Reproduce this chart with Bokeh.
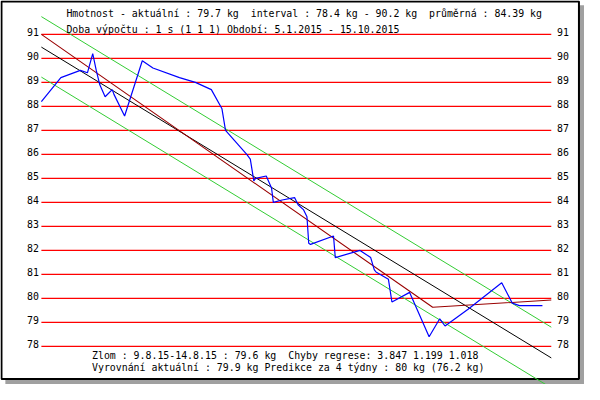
import pandas as pd
from bokeh.plotting import figure
from bokeh.models import Range1d, ColumnDataSource
from bokeh.core.properties import value
from bokeh.embed import file_html
from bokeh.resources import INLINE

# ---------------- data ----------------
dates = ["2015-01-05", "2015-01-16", "2015-01-27", "2015-01-31", "2015-02-03",
         "2015-02-05", "2015-02-07", "2015-02-10", "2015-02-14", "2015-02-15",
         "2015-02-21", "2015-03-03", "2015-03-09", "2015-03-24", "2015-04-02",
         "2015-04-11", "2015-04-17", "2015-04-19", "2015-05-01", "2015-05-03",
         "2015-05-05", "2015-05-06", "2015-05-12", "2015-05-15", "2015-05-16",
         "2015-05-21", "2015-05-28", "2015-05-30", "2015-06-02", "2015-06-04",
         "2015-06-05", "2015-06-06", "2015-06-19", "2015-06-20", "2015-07-04",
         "2015-07-10", "2015-07-12", "2015-07-13", "2015-07-20", "2015-07-22",
         "2015-08-01", "2015-08-12", "2015-08-18", "2015-08-21", "2015-09-03",
         "2015-09-22", "2015-09-28", "2015-10-02", "2015-10-15"]
weights = [88.2, 89.2, 89.5, 89.4, 90.2,
           89.5, 88.9, 88.4, 88.7, 88.5,
           87.6, 89.9, 89.6, 89.2, 89.0,
           88.7, 87.9, 87.0, 86.0, 85.8,
           84.9, 85.0, 85.1, 84.6, 84.0,
           84.1, 84.2, 83.9, 83.7, 83.4,
           82.3, 82.25, 82.6, 81.7, 82.0,
           81.7, 81.2, 81.1, 80.8, 79.85,
           80.25, 78.4, 79.15, 78.85, 79.55,
           80.65, 79.8, 79.7, 79.7]

# linear regression over the whole period and its band
reg_dates = ["2015-01-05", "2015-10-20"]
reg_values = [90.47, 77.52]
band_upper = [91.74, 78.80]
band_lower = [89.22, 76.27]

# broken (two-segment) regression
brk_dates = ["2015-01-05", "2015-08-14", "2015-10-20"]
brk_values = [91.0, 79.63, 79.93]

# horizontal levels / tick labels
levels = [78, 79, 80, 81, 82, 83, 84, 85, 86, 87, 88, 89, 90, 91]
level_labels = [str(v) for v in levels]
grid_end_date = "2015-10-20"

NB = "\u00a0 "  # double space that survives SVG whitespace collapsing
header_lines = [
    "Hmotnost - aktuální : 79.7 kg" + NB + "interval : 78.4 kg - 90.2 kg" + NB + "průměrná : 84.39 kg",
    "Doba výpočtu : 1 s (1 1 1) Období: 5.1.2015 - 15.10.2015",
]
footer_lines = [
    "Zlom : 9.8.15-14.8.15 : 79.6 kg" + NB + "Chyby regrese: 3.847 1.199 1.018",
    "Vyrovnání aktuální : 79.9 kg Predikce za 4 týdny : 80 kg (76.2 kg)",
]

# ---------------- helpers ----------------
t0 = pd.Timestamp(dates[0])


def days(ds):
    return [(pd.Timestamp(d) - t0).days for d in ds]


# layout helpers: reference-pixel -> data (days / kg)
PX_PER_DAY = 1.819
PX_PER_KG = 25.0


def dx(px):
    return (px - 42.0) / PX_PER_DAY


def vy(py):
    return 91.0 - (py - 35.3) / PX_PER_KG


W, H = 584, 384
FONT = value("DejaVu Sans Mono")
FS = "9.9px"

p = figure(width=W, height=H, output_backend="svg", toolbar_location=None,
           x_range=Range1d(dx(0), dx(600)), y_range=Range1d(vy(400), vy(0)),
           x_axis_type=None, y_axis_type=None,
           min_border=0, min_border_left=0, min_border_right=0,
           min_border_top=0, min_border_bottom=0)
p.outline_line_color = None
p.background_fill_color = "white"
p.border_fill_color = "white"
p.grid.visible = False

# frame: shadow + black border
p.quad(left=[dx(5)], right=[dx(600)], top=[vy(5)], bottom=[vy(400)],
       fill_color="#a0a0a0", line_color=None)
p.quad(left=[dx(1)], right=[dx(594.3)], top=[vy(1)], bottom=[vy(394.3)],
       fill_color="white", line_color="black", line_width=2)

# red level lines
x0 = 0
x1 = days([grid_end_date])[0]
p.segment(x0=[x0] * len(levels), x1=[x1] * len(levels), y0=levels, y1=levels,
          line_color="#ff0000", line_width=1.4)

# level labels, left and right
lab_y = [v + 0.09 for v in levels]
p.text(x=[dx(39.5)] * len(levels), y=lab_y, text=level_labels,
       text_font=FONT, text_font_size=FS, text_align="right",
       text_baseline="alphabetic", text_color="black")
p.text(x=[dx(571.7)] * len(levels), y=lab_y, text=level_labels,
       text_font=FONT, text_font_size=FS, text_align="left",
       text_baseline="alphabetic", text_color="black")

# band and regressions
rd = days(reg_dates)
p.line(rd, band_upper, line_color="#33cc33", line_width=1)
p.line(rd, band_lower, line_color="#33cc33", line_width=1)
p.line(rd, reg_values, line_color="black", line_width=1)
p.line(days(brk_dates), brk_values, line_color="#990000", line_width=1.1)

# measured weights
src = ColumnDataSource(dict(d=days(dates), w=weights))
p.line("d", "w", source=src, line_color="#0000ff", line_width=1.2)

# header / footer texts
p.text(x=[dx(67.7)] * 2, y=[vy(13.3), vy(29.7)], text=header_lines,
       text_font=FONT, text_font_size=FS, text_align="left",
       text_baseline="middle", text_color="black")
p.text(x=[dx(94)] * 2, y=[vy(369.3), vy(382.3)], text=footer_lines,
       text_font=FONT, text_font_size=FS, text_align="left",
       text_baseline="middle", text_color="black")

open("out.html", "w").write(file_html(p, INLINE))
